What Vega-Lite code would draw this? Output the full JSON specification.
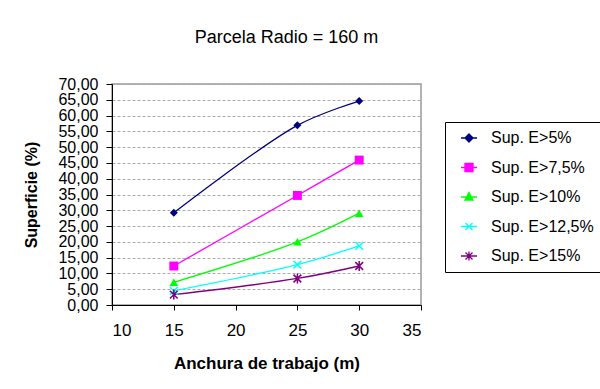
{
  "$schema": "https://vega.github.io/schema/vega-lite/v6.json",
  "width": 309,
  "height": 221,
  "autosize": {"type": "none"},
  "padding": {"left": 112, "top": 84, "right": 179, "bottom": 84},
  "background": "white",
  "title": {
    "text": "Parcela Radio = 160 m",
    "font": "Liberation Sans",
    "fontSize": 18,
    "fontWeight": "normal",
    "color": "black",
    "anchor": "middle",
    "dx": 20,
    "offset": 29
  },
  "config": {
    "view": {"stroke": "#999999", "strokeWidth": 1.5},
    "font": "Liberation Sans"
  },
  "data": {
    "values": [
      {"series": "Sup. E>5%", "x": 15, "y": 29.2},
      {"series": "Sup. E>5%", "x": 25, "y": 56.9},
      {"series": "Sup. E>5%", "x": 30, "y": 64.6},
      {"series": "Sup. E>7,5%", "x": 15, "y": 12.35},
      {"series": "Sup. E>7,5%", "x": 25, "y": 34.7},
      {"series": "Sup. E>7,5%", "x": 30, "y": 45.9},
      {"series": "Sup. E>10%", "x": 15, "y": 7.2},
      {"series": "Sup. E>10%", "x": 25, "y": 20.0},
      {"series": "Sup. E>10%", "x": 30, "y": 29.1},
      {"series": "Sup. E>12,5%", "x": 15, "y": 4.5},
      {"series": "Sup. E>12,5%", "x": 25, "y": 12.8},
      {"series": "Sup. E>12,5%", "x": 30, "y": 18.7},
      {"series": "Sup. E>15%", "x": 15, "y": 3.3},
      {"series": "Sup. E>15%", "x": 25, "y": 8.4},
      {"series": "Sup. E>15%", "x": 30, "y": 12.35}
    ]
  },
  "encoding": {
    "x": {
      "field": "x", "type": "quantitative",
      "scale": {"domain": [10, 35], "nice": false, "zero": false},
      "axis": {
        "values": [10, 15, 20, 25, 30, 35],
        "title": "Anchura de trabajo (m)",
        "grid": false,
        "domainColor": "black", "tickColor": "black",
        "tickSize": 5,
        "labelFontSize": 17, "labelColor": "black", "labelPadding": 12,
        "titleFontSize": 17, "titleFontWeight": "bold", "titleColor": "black",
        "titlePadding": 17
      }
    },
    "y": {
      "field": "y", "type": "quantitative",
      "scale": {"domain": [0, 70], "nice": false},
      "axis": {
        "values": [0, 5, 10, 15, 20, 25, 30, 35, 40, 45, 50, 55, 60, 65, 70],
        "labelExpr": "replace(format(datum.value, '.2f'), '.', ',')",
        "labelOverlap": false,
        "title": "Superficie (%)",
        "grid": true, "gridColor": "#aaaaaa", "gridDash": [3, 2], "gridWidth": 1,
        "domainColor": "black", "tickColor": "black",
        "tickSize": 6,
        "labelFontSize": 16, "labelColor": "black", "labelPadding": 8,
        "titleFontSize": 16, "titleFontWeight": "bold", "titleColor": "black",
        "titlePadding": 18
      }
    }
  },
  "layer": [
    {
      "mark": {"type": "line", "interpolate": "catmull-rom", "strokeWidth": 1.3},
      "encoding": {
        "color": {
          "field": "series", "type": "nominal",
          "scale": {
            "domain": ["Sup. E>5%", "Sup. E>7,5%", "Sup. E>10%", "Sup. E>12,5%", "Sup. E>15%"],
            "range": ["#000080", "#ff00ff", "#00ff00", "#00ffff", "#800080"]
          },
          "legend": {
            "title": null,
            "orient": "none",
            "legendX": 333,
            "legendY": 38,
            "padding": 8,
            "strokeColor": "black",
            "fillColor": "white",
            "labelFontSize": 16,
            "labelColor": "black",
            "labelFont": "Liberation Sans",
            "symbolSize": 100,
            "symbolOffset": 8,
            "symbolStrokeWidth": 1.3,
            "labelOffset": 14,
            "rowPadding": 13.5,
            "encode": {
              "symbols": {
                "update": {
                  "shape": {"signal": "datum.value == 'Sup. E>5%' ? 'M-1.6,0H1.6M0,-0.8L0.8,0L0,0.8L-0.8,0Z' : datum.value == 'Sup. E>7,5%' ? 'M-1.6,0H1.6M-0.8,-0.8H0.8V0.8H-0.8Z' : datum.value == 'Sup. E>10%' ? 'M-1.6,0H1.6M0,-0.9L0.8,0.6H-0.8Z' : datum.value == 'Sup. E>12,5%' ? 'M-1.6,0H1.6M-0.7,-0.7L0.7,0.7M-0.7,0.7L0.7,-0.7' : 'M-1.6,0H1.6M-0.7,-0.7L0.7,0.7M-0.7,0.7L0.7,-0.7M0,-0.9V0.9'"},
                  "fill": {"signal": "datum.value == 'Sup. E>5%' ? '#000080' : datum.value == 'Sup. E>7,5%' ? '#ff00ff' : datum.value == 'Sup. E>10%' ? '#00ff00' : 'transparent'"},
                  "fillOpacity": {"value": 1}
                }
              }
            }
          }
        }
      }
    },
    {
      "transform": [{"filter": "datum.series == 'Sup. E>5%'"}],
      "mark": {"type": "point", "shape": "M0,-1L1,0L0,1L-1,0Z", "size": 64, "filled": true, "color": "#000080", "opacity": 1}
    },
    {
      "transform": [{"filter": "datum.series == 'Sup. E>7,5%'"}],
      "mark": {"type": "point", "shape": "square", "size": 80, "filled": true, "color": "#ff00ff", "opacity": 1}
    },
    {
      "transform": [{"filter": "datum.series == 'Sup. E>10%'"}],
      "mark": {"type": "point", "shape": "triangle-up", "size": 75, "filled": true, "color": "#00ff00", "opacity": 1}
    },
    {
      "transform": [{"filter": "datum.series == 'Sup. E>12,5%'"}],
      "mark": {"type": "point", "shape": "M-1,-1L1,1M-1,1L1,-1", "size": 60, "filled": false, "color": "#00ffff", "strokeWidth": 1.5, "opacity": 1}
    },
    {
      "transform": [{"filter": "datum.series == 'Sup. E>15%'"}],
      "mark": {"type": "point", "shape": "M-1,-1L1,1M-1,1L1,-1M0,-1.3V1.3", "size": 60, "filled": false, "color": "#800080", "strokeWidth": 1.5, "opacity": 1}
    }
  ]
}
